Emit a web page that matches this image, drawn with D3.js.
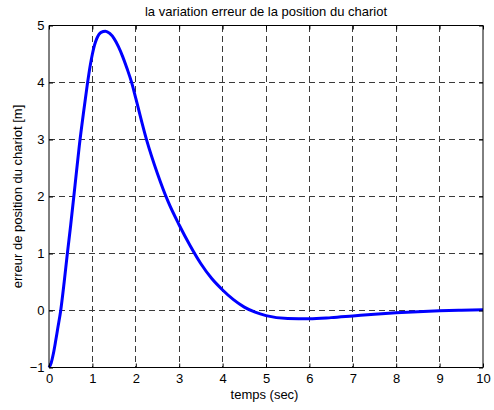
<!DOCTYPE html>
<html>
<head>
<meta charset="utf-8">
<script src="https://cdn.jsdelivr.net/npm/d3@7"></script>
<style>
  html, body { margin: 0; padding: 0; background: #fff; }
  text { font-family: "Liberation Sans", Arial, sans-serif; }
</style>
</head>
<body>
<svg id="chart" width="494" height="410"></svg>
<script>
const timeValues = [0, 0.05, 0.1, 0.15, 0.2, 0.27, 0.35, 0.42, 0.5, 0.6, 0.7, 0.8, 0.88, 0.95, 1.0, 1.05, 1.1, 1.2, 1.3, 1.4, 1.5, 1.6, 1.7, 1.8, 1.9, 2.0, 2.25, 2.5, 2.75, 3.0, 3.25, 3.5, 3.75, 4.0, 4.25, 4.5, 4.75, 5.0, 5.5, 6.0, 6.5, 7.0, 7.5, 8.0, 8.5, 9.0, 9.5, 10];
const errorValues = [-1, -0.92, -0.76, -0.55, -0.32, 0, 0.5, 0.98, 1.5, 2.2, 2.9, 3.5, 3.95, 4.3, 4.5, 4.66, 4.77, 4.88, 4.9, 4.86, 4.77, 4.63, 4.45, 4.24, 4.01, 3.72, 2.99, 2.4, 1.9, 1.5, 1.14, 0.82, 0.56, 0.36, 0.19, 0.06, -0.03, -0.09, -0.14, -0.145, -0.125, -0.095, -0.065, -0.04, -0.02, -0.005, 0.005, 0.015];
const xTicks = [0, 1, 2, 3, 4, 5, 6, 7, 8, 9, 10];
const yTicks = [-1, 0, 1, 2, 3, 4, 5];
const titleText = "la variation erreur de la position du chariot";
const xLabel = "temps (sec)";
const yLabel = "erreur de position du chariot [m]";

(function () {
const svg = d3.select("#chart");
const mLeft = 49, mRight = 483, mTop = 25.5, mBottom = 367.5;

const x = d3.scaleLinear().domain([0, 10]).range([mLeft, mRight]);
const y = d3.scaleLinear().domain([-1, 5]).range([mBottom, mTop]);

// grid
const grid = svg.append("g");
grid.selectAll("line.vx").data(xTicks.slice(1, -1)).enter().append("line")
  .attr("x1", d => x(d)).attr("x2", d => x(d))
  .attr("y1", mTop).attr("y2", mBottom)
  .attr("stroke", "#3a3a3a").attr("stroke-width", 1)
  .attr("stroke-dasharray", "6,4").attr("shape-rendering", "crispEdges");
grid.selectAll("line.hy").data(yTicks.slice(1, -1)).enter().append("line")
  .attr("x1", mLeft).attr("x2", mRight)
  .attr("y1", d => y(d)).attr("y2", d => y(d))
  .attr("stroke", "#3a3a3a").attr("stroke-width", 1)
  .attr("stroke-dasharray", "6,4").attr("shape-rendering", "crispEdges");

// data line
const data = timeValues.map((t, i) => [t, errorValues[i]]);
svg.append("path")
  .datum(data)
  .attr("fill", "none")
  .attr("stroke", "#0000ff")
  .attr("stroke-width", 3)
  .attr("stroke-linejoin", "round")
  .attr("d", d3.line().x(d => x(d[0])).y(d => y(d[1])).curve(d3.curveMonotoneX));

// axes (MATLAB style, ticks inward)
const xAxisB = d3.axisBottom(x).tickValues(xTicks).tickSize(-4).tickPadding(6.5).tickFormat(d3.format("d"));
const xAxisT = d3.axisTop(x).tickValues(xTicks).tickSize(-4).tickFormat("");
const yAxisL = d3.axisLeft(y).tickValues(yTicks).tickSize(-4).tickPadding(4.5).tickFormat(d3.format("d"));
const yAxisR = d3.axisRight(y).tickValues(yTicks).tickSize(-4).tickFormat("");

function style(g) {
  g.selectAll(".domain").attr("stroke", "#000").attr("stroke-width", 1);
  g.selectAll(".tick line").attr("stroke", "#000");
  g.selectAll(".tick text").attr("fill", "#000").style("font-size", "13px")
    .style("font-family", "'Liberation Sans', Arial, sans-serif");
}
svg.append("g").attr("transform", `translate(0,${mBottom})`).call(xAxisB).call(style)
  .call(g => g.select(".domain").attr("d", `M${mLeft},0H${mRight}`));
svg.append("g").attr("transform", `translate(0,${mTop})`).call(xAxisT).call(style)
  .call(g => g.select(".domain").attr("d", `M${mLeft},0H${mRight}`));
svg.append("g").attr("transform", `translate(${mLeft},0)`).call(yAxisL).call(style)
  .call(g => g.select(".domain").attr("d", `M0,${mTop}V${mBottom}`));
svg.append("g").attr("transform", `translate(${mRight},0)`).call(yAxisR).call(style)
  .call(g => g.select(".domain").attr("d", `M0,${mTop}V${mBottom}`));

// texts
svg.append("text").attr("x", (mLeft + mRight) / 2).attr("y", 15.5)
  .attr("text-anchor", "middle").style("font-size", "13px").text(titleText);
svg.append("text").attr("x", (mLeft + mRight) / 2 - 1.5).attr("y", 399)
  .attr("text-anchor", "middle").style("font-size", "13px").text(xLabel);
svg.append("text").attr("transform", `translate(22,${(mTop + mBottom) / 2}) rotate(-90)`)
  .attr("text-anchor", "middle").style("font-size", "13px").text(yLabel);
})();
</script>
</body>
</html>
